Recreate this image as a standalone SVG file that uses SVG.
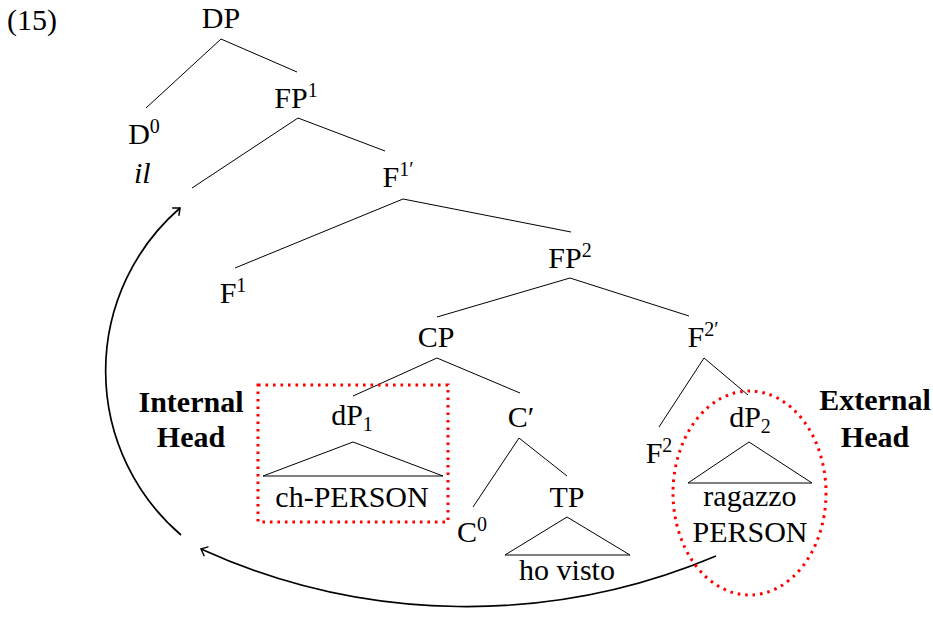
<svg xmlns="http://www.w3.org/2000/svg" width="933" height="629" viewBox="0 0 933 629">
  <style>
    text { font-family: "Liberation Serif", "DejaVu Serif", serif; font-size: 30px; fill: #000; }
    .c { text-anchor: middle; }
    .b { font-weight: bold; }
    .sup { font-size: 20px; }
    .edge { stroke: #000; stroke-width: 1; fill: none; }
    .tri { stroke: #000; stroke-width: 1; fill: none; stroke-linejoin: miter; }
    .move { stroke: #000; stroke-width: 1.7; fill: none; }
    .hl { stroke: #ff0000; stroke-width: 3; fill: none; stroke-dasharray: 2.6 4.9; }
  </style>
  <defs>
    <marker id="tip" markerUnits="userSpaceOnUse" markerWidth="16" markerHeight="16" refX="8" refY="8" orient="auto" overflow="visible">
      <path d="M2.5 3.2 Q6.5 6.8 8 8 Q6.5 9.2 2.5 12.8" fill="none" stroke="#000" stroke-width="1.5" stroke-linecap="round"/>
    </marker>
  </defs>

  <rect width="933" height="629" fill="#fff"/>

  <text x="7" y="30">(15)</text>

  <!-- tree branches -->
  <g id="connectors">
    <path class="edge" d="M221 39 L146 108 M221 39 L297 72"/>
    <path class="edge" d="M298 118 L192 188 M298 118 L385 151"/>
    <path class="edge" d="M403 199 L235 268 M403 199 L571 232"/>
    <path class="edge" d="M570 278 L437 317 M570 278 L689 316"/>
    <path class="edge" d="M437 358 L353 396 M437 358 L520 393"/>
    <path class="edge" d="M519 438 L473 507 M519 438 L567 476"/>
    <path class="edge" d="M704 358 L659 427 M704 358 L748 395"/>
    <!-- movement arrows -->
    <path class="move" d="M181 535 A216 216 0 0 1 180 208" marker-end="url(#tip)"/>
    <path class="move" d="M716 556 A641 641 0 0 1 201 549" marker-end="url(#tip)"/>
  </g>

  <g id="DP"><text class="c" x="221" y="28">DP</text></g>
  <g id="D0">
    <text class="c" x="144" y="144">D<tspan class="sup" dy="-11">0</tspan></text>
    <text x="134" y="183" font-style="italic">il</text>
  </g>
  <g id="FP1"><text class="c" x="296" y="108">FP<tspan class="sup" dy="-11">1</tspan></text></g>
  <g id="F1bar"><text class="c" x="398" y="187">F<tspan class="sup" dy="-11">1′</tspan></text></g>
  <g id="F1"><text class="c" x="233" y="303">F<tspan class="sup" dy="-11">1</tspan></text></g>
  <g id="FP2"><text class="c" x="570" y="268">FP<tspan class="sup" dy="-11">2</tspan></text></g>
  <g id="CP"><text class="c" x="436" y="347">CP</text></g>
  <g id="F2bar"><text class="c" x="703" y="347">F<tspan class="sup" dy="-11">2′</tspan></text></g>

  <g id="dP1">
    <text class="c" x="352" y="425">dP<tspan class="sup" dy="6">1</tspan></text>
    <path class="tri" d="M353 442 L263 476 L443 476 Z"/>
    <text class="c" x="352" y="507">ch-PERSON</text>
    <rect class="hl" x="258" y="385" width="190" height="137"/>
  </g>
  <g id="Cbar"><text class="c" x="521" y="427">C′</text></g>
  <g id="C0"><text class="c" x="472" y="542">C<tspan class="sup" dy="-11">0</tspan></text></g>
  <g id="TP">
    <text class="c" x="567" y="507">TP</text>
    <path class="tri" d="M567 517 L505 555 L630 555 Z"/>
    <text class="c" x="567" y="580">ho visto</text>
  </g>

  <g id="F2"><text class="c" x="659" y="463">F<tspan class="sup" dy="-11">2</tspan></text></g>
  <g id="dP2">
    <text class="c" x="750" y="427">dP<tspan class="sup" dy="6">2</tspan></text>
    <path class="tri" d="M749 442 L688 483 L812 483 Z"/>
    <text class="c" x="750" y="506">ragazzo</text>
    <text class="c" x="750" y="542">PERSON</text>
    <ellipse class="hl" cx="749.5" cy="493" rx="76.5" ry="102"/>
  </g>

  <g id="internal-head">
    <text class="c b" x="191" y="412">Internal</text>
    <text class="c b" x="191" y="447">Head</text>
  </g>
  <g id="external-head">
    <text class="c b" x="875" y="410">External</text>
    <text class="c b" x="875" y="447">Head</text>
  </g>
</svg>
